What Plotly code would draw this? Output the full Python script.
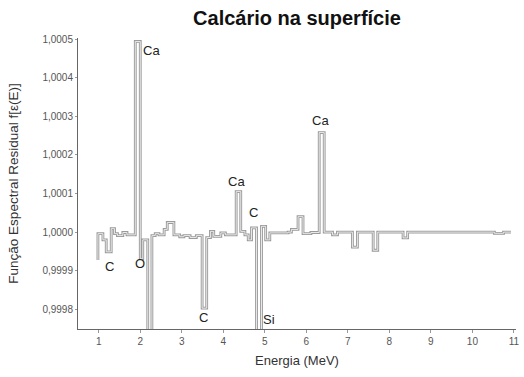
import plotly.graph_objects as go

# Residual spectral function, stepped per energy bin (bin start energy, value)
energy_mev = [0.98, 0.98, 1.10, 1.18, 1.30, 1.38, 1.45, 1.58, 1.68, 1.88,
              2.00, 2.06, 2.18, 2.28, 2.36, 2.45, 2.575, 2.65, 2.81, 2.95,
              3.05, 3.20, 3.35, 3.49, 3.60, 3.69, 3.77, 3.94, 4.05, 4.31,
              4.42, 4.52, 4.60, 4.68, 4.80, 4.92, 5.02, 5.12, 5.56, 5.64,
              5.80, 5.92, 6.11, 6.31, 6.43, 6.63, 6.75, 7.11, 7.23, 7.61,
              7.72, 8.33, 8.44, 10.53, 10.75, 10.93]
residual = [0.999928, 0.999996, 0.999980, 0.999949, 1.000009, 0.999996, 0.999991, 0.999999, 0.999993, 1.000494,
            0.999931, 0.999980, 0.999600, 0.999991, 0.999996, 0.999993, 1.000007, 1.000025, 0.999993, 0.999988,
            0.999991, 0.999986, 0.999991, 0.999803, 0.999986, 1.000002, 0.999989, 0.999998, 0.999993, 1.000105,
            1.000002, 0.999993, 0.999980, 1.000011, 0.999600, 1.000015, 0.999980, 0.999998, 1.000000, 1.000007,
            1.000040, 0.999996, 0.999999, 1.000258, 1.000000, 0.999993, 1.000000, 0.999961, 1.000000, 0.999953,
            1.000000, 0.999985, 1.000000, 0.999997, 1.000000, 1.000000]

# Element labels: (text, energy, value)
peak_labels = ["Ca", "C", "O", "Ca", "C", "C", "Si", "Ca"]
peak_label_energy = [2.27, 1.26, 2.00, 4.32, 4.72, 3.53, 5.10, 6.35]
peak_label_value = [1.000470, 0.999912, 0.999920, 1.000132, 1.000050, 0.999780, 0.999774, 1.000290]

x_ticks = list(range(1, 12))
y_ticks = [0.9998, 0.9999, 1.0000, 1.0001, 1.0002, 1.0003, 1.0004, 1.0005]

FONT = "Liberation Sans, Arial, sans-serif"

fig = go.Figure()
# outlined step line: grey stroke with a light core
fig.add_trace(go.Scatter(x=energy_mev, y=residual, mode="lines", line_shape="hv",
                         line=dict(color="#9a9a9a", width=2.8), hoverinfo="skip"))
fig.add_trace(go.Scatter(x=energy_mev, y=residual, mode="lines", line_shape="hv",
                         line=dict(color="#f2f2f2", width=0.9), hoverinfo="skip"))

for txt, ex, vy in zip(peak_labels, peak_label_energy, peak_label_value):
    fig.add_annotation(x=ex, y=vy, text=txt, showarrow=False,
                       font=dict(family=FONT, size=13, color="#222222"))

fig.update_layout(
    width=524, height=377,
    margin=dict(l=78, r=4, t=38, b=48),
    paper_bgcolor="white", plot_bgcolor="white",
    showlegend=False,
    separators=", ",
    title=dict(text="<b>Calcário na superfície</b>", x=0.5, xref="paper",
               xanchor="center", y=0.972, yanchor="top",
               font=dict(family=FONT, size=20, color="#111111")),
    font=dict(family=FONT, color="#444444"),
)
fig.update_xaxes(range=[0.5, 11.05], tickvals=x_ticks, showgrid=False, zeroline=False,
                 showline=True, linecolor="#666666", linewidth=1,
                 ticks="outside", ticklen=3, tickcolor="#999999",
                 tickfont=dict(size=10, color="#555555"),
                 title=dict(text="Energia (MeV)", font=dict(size=13, color="#333333"), standoff=9))
fig.update_yaxes(range=[0.999749, 1.000503], tickvals=y_ticks, tickformat=".4f",
                 showgrid=False, zeroline=False,
                 showline=True, linecolor="#666666", linewidth=1,
                 ticks="outside", ticklen=2, tickcolor="#999999",
                 tickfont=dict(size=10, color="#555555"),
                 title=dict(text="Função Espectral Residual f[ε(E)]",
                            font=dict(size=13.5, color="#333333"), standoff=20))

fig.write_html("out.html")
